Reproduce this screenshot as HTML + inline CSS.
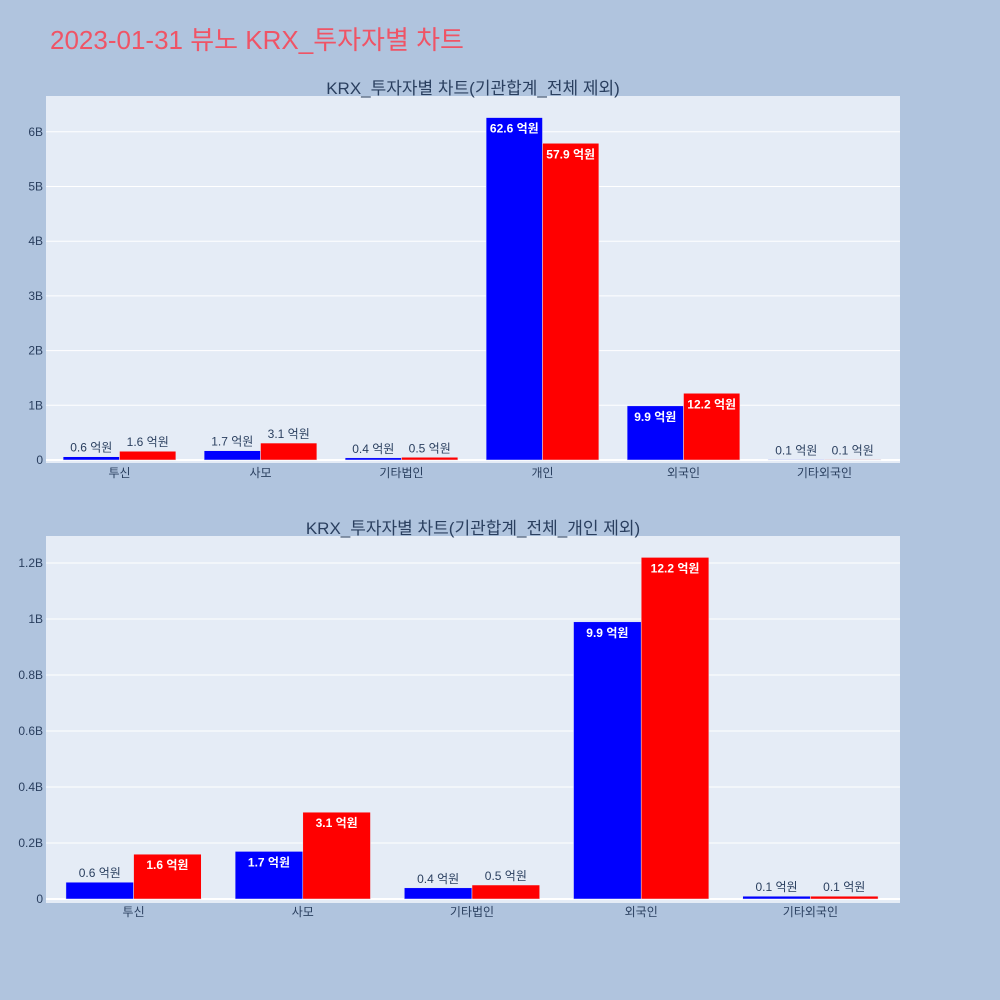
<!DOCTYPE html>
<html><head><meta charset="utf-8"><style>
body{margin:0;background:#b0c4de;}
svg{display:block;font-family:"Liberation Sans","Noto Sans CJK KR",sans-serif;}
</style></head><body>
<svg id="s" width="1000" height="1000" xmlns="http://www.w3.org/2000/svg">
<rect width="1000" height="1000" fill="#b0c4de"/>
<text x="50" y="49" font-size="26" fill="#ef5466">2023-01-31 뷰노 KRX_투자자별 차트</text>
</svg>
<script>
const cats1=["투신","사모","기타법인","개인","외국인","기타외국인"];
const blue1=[0.06,0.17,0.04,6.26,0.99,0.01];
const red1=[0.16,0.31,0.05,5.79,1.22,0.01];
const blueLbl1=["0.6 억원","1.7 억원","0.4 억원","62.6 억원","9.9 억원","0.1 억원"];
const redLbl1=["1.6 억원","3.1 억원","0.5 억원","57.9 억원","12.2 억원","0.1 억원"];
const ticks1=[0,1,2,3,4,5,6];
const tickLbl1=["0","1B","2B","3B","4B","5B","6B"];
const cats2=["투신","사모","기타법인","외국인","기타외국인"];
const blue2=[0.06,0.17,0.04,0.99,0.01];
const red2=[0.16,0.31,0.05,1.22,0.01];
const blueLbl2=["0.6 억원","1.7 억원","0.4 억원","9.9 억원","0.1 억원"];
const redLbl2=["1.6 억원","3.1 억원","0.5 억원","12.2 억원","0.1 억원"];
const ticks2=[0,0.2,0.4,0.6,0.8,1,1.2];
const tickLbl2=["0","0.2B","0.4B","0.6B","0.8B","1B","1.2B"];
const NS="http://www.w3.org/2000/svg";
const svg=document.getElementById('s');
function mk(tag,attrs,txt){const e=document.createElementNS(NS,tag);for(const k in attrs)e.setAttribute(k,attrs[k]);if(txt!=null)e.textContent=txt;svg.appendChild(e);return e;}
function chart(o){
  const bg=mk('rect',{x:46,y:o.top,width:854,height:o.bottom-o.top,fill:'#e5ecf6'});
  
  
  const t=mk('text',{x:473,y:o.top-2,'font-size':17,fill:'#2a3f5f','text-anchor':'middle'},o.title);
  
  
  const y=v=>o.zero-v*o.scale;
  const bw=(895-49)/o.cats.length;
  const cx=i=>49+bw*(i+0.5);
  o.ticks.forEach((v,i)=>{
    const l=mk('line',{x1:46,x2:900,y1:y(v),y2:y(v),stroke:'#fff','stroke-width':v===0?2:1});
    
    
    const tl=mk('text',{x:43,y:y(v)+4,'font-size':12,fill:'#2a3f5f','text-anchor':'end'},o.tickLbl[i]);
    
    
  });
  const w=bw*0.8/2;
  o.cats.forEach((c,i)=>{
    const xl=mk('text',{x:cx(i),y:o.zero+17,'font-size':12,fill:'#2a3f5f','text-anchor':'middle'},c);
    
    
    [[o.blue,o.blueLbl,'blue',-1],[o.red,o.redLbl,'red',0]].forEach(([vals,lbls,col,off])=>{
      const v=vals[i],x0=cx(i)+off*w,top=y(v),h=o.zero-top;
      const r=mk('rect',{x:x0,y:top,width:w,height:h,fill:col,stroke:'#e5ecf6','stroke-width':0.5});
      
      
      const mx=x0+w/2;let tx;
      const tw=lbls[i].length*6.5;
      if(h<20){
        tx=mk('text',{x:mx,y:top-5,'font-size':12,fill:'#2a3f5f','text-anchor':'middle'},lbls[i]);
      }else if(tw+6>w){
        tx=mk('text',{x:0,y:0,'font-size':12,fill:'#fff','font-weight':'bold','text-anchor':'start',transform:`translate(${mx-4},${top+4}) rotate(90)`},lbls[i]);
      }else{
        tx=mk('text',{x:mx,y:top+15,'font-size':12,fill:'#fff','font-weight':'bold','text-anchor':'middle'},lbls[i]);
      }
      
      
    });
  });
}
chart({id:'chart1',top:96,bottom:463,zero:460,scale:54.7,cats:cats1,blue:blue1,red:red1,blueLbl:blueLbl1,redLbl:redLbl1,ticks:ticks1,tickLbl:tickLbl1,title:"KRX_투자자별 차트(기관합계_전체 제외)"});
chart({id:'chart2',top:536,bottom:903,zero:899,scale:280,cats:cats2,blue:blue2,red:red2,blueLbl:blueLbl2,redLbl:redLbl2,ticks:ticks2,tickLbl:tickLbl2,title:"KRX_투자자별 차트(기관합계_전체_개인 제외)"});
</script>
</body></html>
